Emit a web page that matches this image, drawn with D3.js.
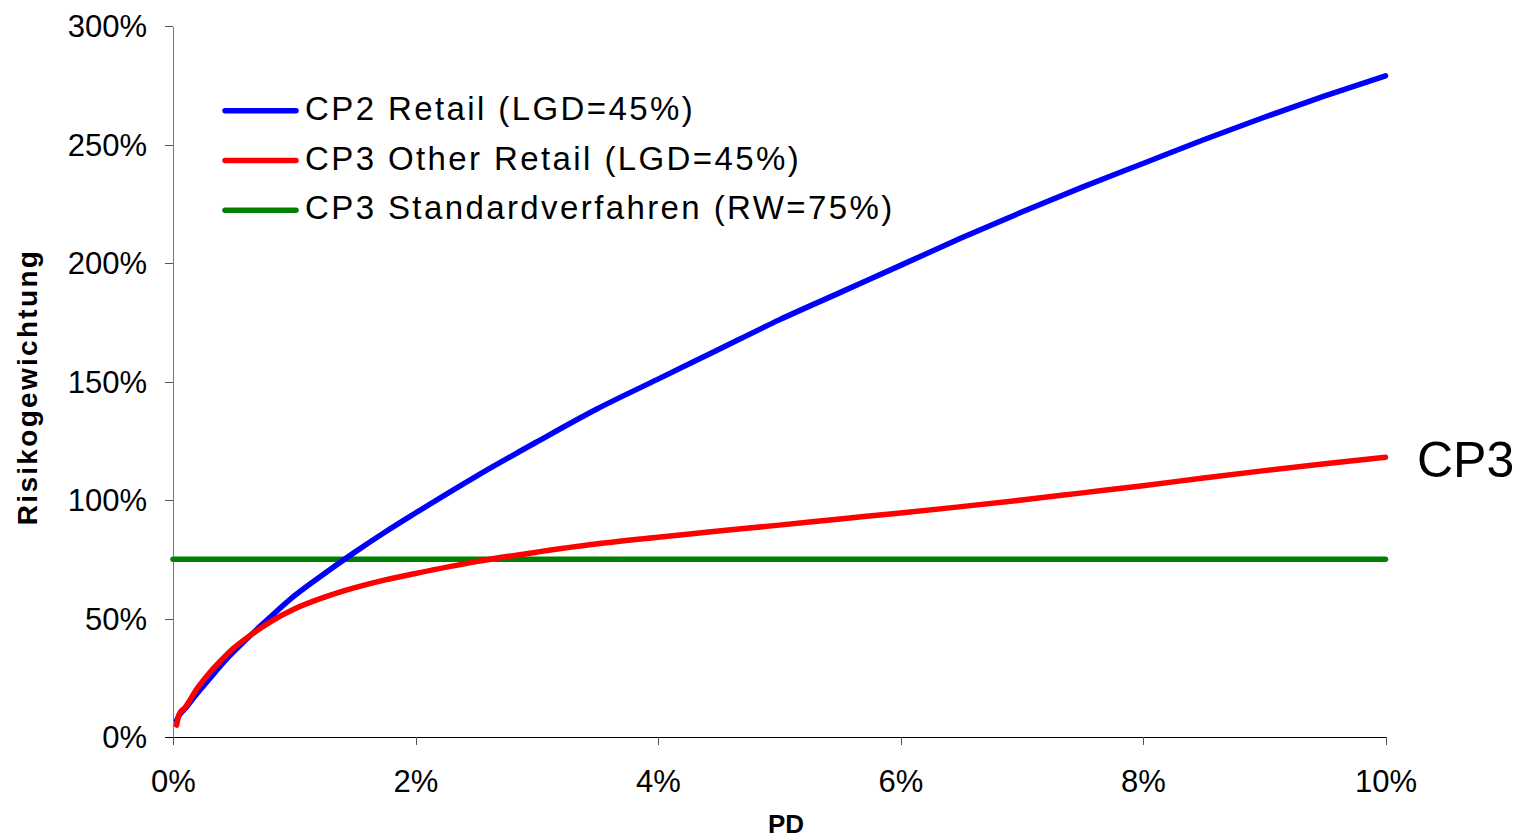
<!DOCTYPE html>
<html lang="de">
<head>
<meta charset="UTF-8">
<title>Risikogewichtung nach PD</title>
<style>
    body { margin: 0; background: #fff; }
    svg text { font-family: "Liberation Sans", Arial, sans-serif; fill: #000; }
    .axis path, .axis line { shape-rendering: crispEdges; }
</style>
</head>
<body>
<div id="chart"></div>
<script src="https://d3js.org/d3.v7.min.js"></script>
<script>
// PD in %, Risikogewichtung in %
const pd = [0.03, 0.05, 0.1, 0.2, 0.3, 0.4, 0.5, 0.6, 0.8, 1.0, 1.25, 1.5, 1.75, 2.0, 2.5,
            3.0, 3.5, 4.0, 4.5, 5.0, 5.5, 6.0, 6.5, 7.0, 7.5, 8.0, 8.5, 9.0, 9.5, 10.0];
const cp2Retail = [7, 9, 12, 18.5, 24.5, 30.5, 36, 41, 50.5, 59.5, 69, 78, 86.5, 94.5, 110,
                   124.5, 138.5, 151, 163.5, 176, 187.5, 199, 210.5, 221.5, 232, 242, 252, 261.5, 270.5, 279];
const cp3OtherRetail = [5, 9.5, 12.5, 20.5, 27, 32.5, 37.5, 41.5, 48.5, 54, 59, 63, 66.3, 69, 74,
                        78, 81.5, 84.3, 86.9, 89.4, 92, 94.5, 97.2, 100, 103, 106, 109.3, 112.4, 115.3, 118];
const cp3Standard = [75, 75];
const cp3StandardPd = [0, 10];

const seriesNames = ["CP2 Retail (LGD=45%)", "CP3 Other Retail (LGD=45%)", "CP3 Standardverfahren (RW=75%)"];
const seriesColors = ["#0000ff", "#ff0000", "#008000"];
const xTicks = [0, 2, 4, 6, 8, 10];
const yTicks = [0, 50, 100, 150, 200, 250, 300];

const W = 1535, H = 840;
const svg = d3.select("#chart").append("svg")
    .attr("width", W)
    .attr("height", H);

const x = d3.scaleLinear().domain([0, 10]).range([173, 1385.5]);
const y = d3.scaleLinear().domain([0, 300]).range([737, 26]);

// y axis
const yAxis = svg.append("g")
    .attr("class", "axis")
    .attr("transform", "translate(173,0)")
    .call(d3.axisLeft(y).tickValues(yTicks).tickFormat(d => d + "%").tickSize(8).tickPadding(18).tickSizeOuter(0));
yAxis.select(".domain").attr("stroke", "#777");
yAxis.selectAll(".tick line").attr("stroke", "#555");
yAxis.selectAll("text").style("font-size", "31px").attr("dy", "0.34em");

// x axis
const xAxis = svg.append("g")
    .attr("class", "axis")
    .attr("transform", "translate(0,737)")
    .call(d3.axisBottom(x).tickValues(xTicks).tickFormat(d => d + "%").tickSize(8).tickPadding(25).tickSizeOuter(0));
xAxis.select(".domain").attr("d", "M165,0.5H" + x(10));
xAxis.selectAll(".tick line").attr("stroke", "#555");
xAxis.selectAll("text").style("font-size", "31px");

// axis titles
svg.append("text")
    .attr("x", 786)
    .attr("y", 833)
    .attr("text-anchor", "middle")
    .style("font-size", "26px")
    .style("font-weight", "bold")
    .text("PD");

svg.append("text")
    .attr("transform", "translate(37,387) rotate(-90)")
    .attr("text-anchor", "middle")
    .style("font-size", "28px")
    .style("font-weight", "bold")
    .style("letter-spacing", "2.3px")
    .text("Risikogewichtung");

// lines
const line = d3.line()
    .x(d => x(d[0]))
    .y(d => y(d[1]))
    .curve(d3.curveMonotoneX);

const seriesData = [
    d3.zip(pd, cp2Retail),
    d3.zip(pd, cp3OtherRetail),
    d3.zip(cp3StandardPd, cp3Standard)
];

// green first so the curves sit on top like in the original
[2, 0, 1].forEach(i => {
    svg.append("path")
        .datum(seriesData[i])
        .attr("d", line)
        .attr("fill", "none")
        .attr("stroke", seriesColors[i])
        .attr("stroke-width", 5.5)
        .attr("stroke-linecap", "round")
        .attr("stroke-linejoin", "round");
});

// legend
const legendY = [110.7, 160.5, 210.3];
seriesNames.forEach((name, i) => {
    svg.append("line")
        .attr("x1", 225)
        .attr("x2", 296)
        .attr("y1", legendY[i])
        .attr("y2", legendY[i])
        .attr("stroke", seriesColors[i])
        .attr("stroke-width", 5.5)
        .attr("stroke-linecap", "round");
    svg.append("text")
        .attr("x", 305)
        .attr("y", legendY[i] + 9)
        .style("font-size", "33px")
        .style("letter-spacing", "2.4px")
        .text(name);
});

// label right of the red curve
svg.append("text")
    .attr("x", 1417)
    .attr("y", 477)
    .style("font-size", "50px")
    .text("CP3");
</script>
</body>
</html>
